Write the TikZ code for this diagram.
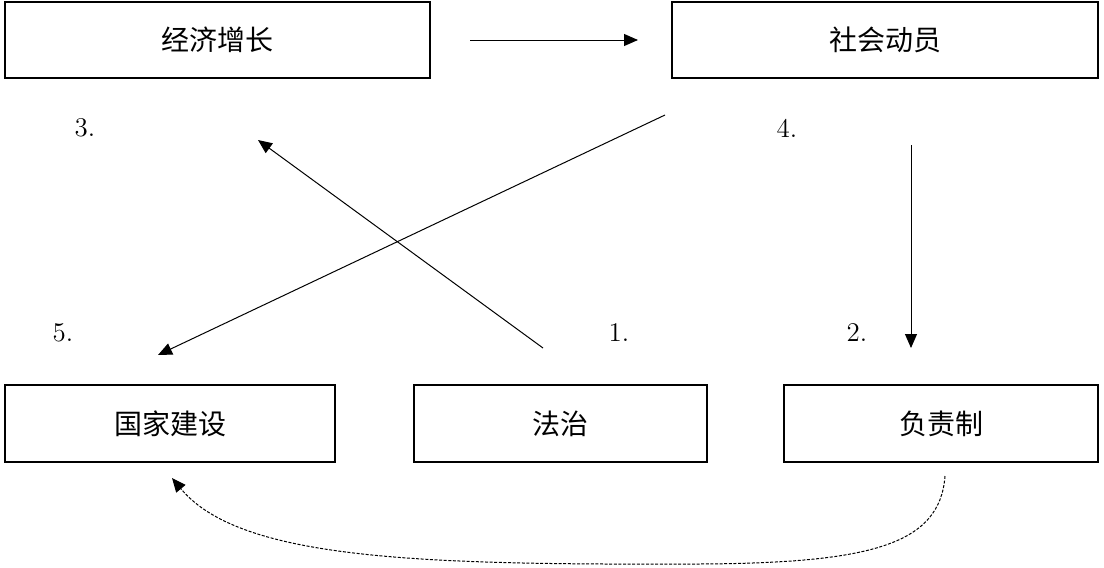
\documentclass[tikz,border=0pt]{standalone}
\usepackage{fontspec}
\newfontfamily\cjk{Noto Sans CJK SC}
\usetikzlibrary{arrows.meta}
\tikzset{>={Triangle[length=7pt,width=6pt]}}
\tikzset{box/.style={draw, line width=0.6pt, inner sep=0pt, font=\cjk\fontsize{14}{16}\selectfont},
         num/.style={font=\fontsize{13.5}{15}\selectfont}}

\begin{document}
\begin{tikzpicture}[x=0.5pt, y=-0.5pt, line width=0.5pt]
    \useasboundingbox (0,0) rectangle (1104,568);
    % boxes
    \node[box, minimum width=212.5pt, minimum height=38pt] (jjzz) at (217.5,40) {经济增长};
    \node[box, minimum width=213pt, minimum height=38pt] (shdy) at (885,40) {社会动员};
    \node[box, minimum width=165pt, minimum height=38.5pt] (gjjs) at (170,423.5) {国家建设};
    \node[box, minimum width=146.5pt, minimum height=38.5pt] (fz) at (560.5,423.5) {法治};
    \node[box, minimum width=157pt, minimum height=38.5pt] (fzz) at (941,423.5) {负责制};
    % numbers
    \node[num] (n1) at (619,333) {1.};
    \node[num] (n2) at (857,333) {2.};
    \node[num] (n3) at (85,128) {3.};
    \node[num] (n4) at (787,128) {4.};
    \node[num] (n5) at (63,333) {5.};
    % free ends
    \coordinate (a1) at (470,40);  \coordinate (b1) at (638,40);
    \coordinate (a2) at (543,348); \coordinate (b2) at (258,140);
    \coordinate (a3) at (911,145); \coordinate (b3) at (911,348);
    \coordinate (a4) at (665,115); \coordinate (b4) at (158,355);
    \coordinate (a5) at (945,476); \coordinate (b5) at (172,478);
    \draw[->] (a1) -- (b1);
    \draw[->] (a2) -- (b2);
    \draw[->] (a3) -- (b3);
    \draw[->] (a4) -- (b4);
    \draw[->, dash pattern=on 1.5pt off 0.8pt] (a5) .. controls (940,545) and (870,563) .. (700,564)
        .. controls (420,565) and (240,560) .. (b5);
\end{tikzpicture}
\end{document}
